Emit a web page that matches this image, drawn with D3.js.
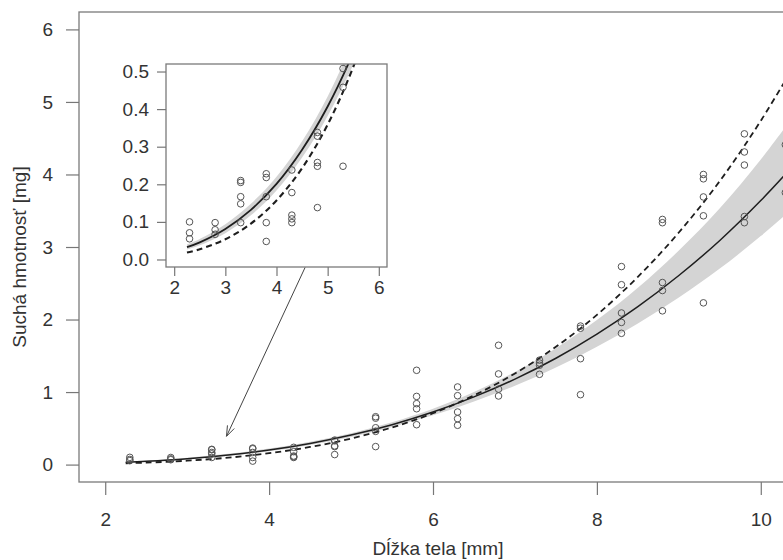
<!DOCTYPE html>
<html>
<head>
<meta charset="utf-8">
<script src="https://cdn.jsdelivr.net/npm/d3@7"></script>
<style>
  body { margin: 0; background: #fff; }
  svg { display: block; font-family: "Liberation Sans", Arial, Helvetica, sans-serif; }
  .tick text { fill: #333; font-size: 19px; }
  .tick line { stroke: #777; }
</style>
</head>
<body>
<svg id="chart" width="783" height="560"></svg>
<script>
// body length groups [mm] and measured dry mass [mg]
const lengths = [2.3, 2.8, 3.3, 3.8, 4.3, 4.8, 5.3, 5.8, 6.3, 6.8, 7.3, 7.8, 8.3, 8.8, 9.3, 9.8, 10.3];
const masses = [
  [0.10, 0.071, 0.055],
  [0.098, 0.079, 0.067],
  [0.21, 0.205, 0.167, 0.148, 0.098],
  [0.228, 0.218, 0.167, 0.098, 0.048],
  [0.238, 0.178, 0.118, 0.108, 0.098],
  [0.338, 0.328, 0.258, 0.248, 0.138],
  [0.66, 0.64, 0.508, 0.458, 0.248],
  [1.30, 0.94, 0.84, 0.77, 0.55],
  [1.07, 0.95, 0.725, 0.633, 0.542],
  [1.645, 1.25, 1.04, 0.946],
  [1.44, 1.40, 1.37, 1.245],
  [1.91, 1.88, 1.46, 0.964],
  [2.73, 2.48, 2.09, 1.96, 1.81],
  [3.38, 3.335, 2.51, 2.40, 2.12],
  [4.00, 3.94, 3.69, 3.43, 2.23],
  [4.56, 4.31, 4.13, 3.42, 3.335],
  [4.41, 3.75]
];

// fitted curves
const curveX  = [2.25, 2.5, 3, 3.5, 4, 4.5, 5, 5.5, 6, 6.5, 7, 7.5, 8, 8.5, 9, 9.5, 10, 10.5];
const solidY  = [0.0327, 0.0455, 0.0811, 0.132, 0.201, 0.292, 0.407, 0.550, 0.724, 0.933, 1.179, 1.466, 1.799, 2.178, 2.607, 3.09, 3.64, 4.25];
const dashedY = [0.0184, 0.0273, 0.0537, 0.0954, 0.157, 0.243, 0.359, 0.512, 0.708, 0.954, 1.256, 1.624, 2.064, 2.588, 3.20, 3.91, 4.74, 5.68];
const bandHi  = [0.0402, 0.0547, 0.0939, 0.1483, 0.2204, 0.3146, 0.4337, 0.584, 0.771, 1.001, 1.277, 1.605, 1.992, 2.438, 2.951, 3.534, 4.206, 4.959];
const bandLo  = [0.0266, 0.0379, 0.0701, 0.1175, 0.1833, 0.2710, 0.3819, 0.518, 0.680, 0.870, 1.088, 1.339, 1.625, 1.945, 2.303, 2.702, 3.150, 3.642];

const mainXTicks = [2, 4, 6, 8, 10];
const mainYTicks = [0, 1, 2, 3, 4, 5, 6];
const insetXTicks = [2, 3, 4, 5, 6];
const insetYTicks = [0, 0.1, 0.2, 0.3, 0.4, 0.5];

const xTitle = 'Dĺžka tela [mm]';
const yTitle = 'Suchá hmotnosť [mg]';

// arrow from the inset down to the zoomed region (main data coords)
const arrowFrom = [4.44, 2.72];
const arrowTo = [3.48, 0.39];

const points = [];
lengths.forEach((x, i) => masses[i].forEach(y => points.push({ x, y })));
const curve = curveX.map((x, i) => ({ x, s: solidY[i], d: dashedY[i], hi: bandHi[i], lo: bandLo[i] }));

const svg = d3.select('#chart');

// draws one panel (main or inset) with the same content
function drawPanel(g, x, y, opts) {
  const [x0, x1] = x.range();
  const [y1, y0] = y.range();
  const id = opts.id;

  g.append('rect')
    .attr('x', x0).attr('y', y0)
    .attr('width', x1 - x0).attr('height', y1 - y0)
    .attr('fill', '#fff');

  g.append('clipPath').attr('id', id)
    .append('rect')
    .attr('x', x0).attr('y', y0)
    .attr('width', x1 - x0).attr('height', y1 - y0);

  const plot = g.append('g').attr('clip-path', `url(#${id})`);

  const area = d3.area()
    .x(d => x(d.x)).y0(d => y(d.lo)).y1(d => y(d.hi))
    .curve(d3.curveCatmullRom);
  plot.append('path').datum(curve)
    .attr('d', area)
    .attr('fill', '#d4d4d4');

  const solid = d3.line().x(d => x(d.x)).y(d => y(d.s)).curve(d3.curveCatmullRom);
  const dashed = d3.line().x(d => x(d.x)).y(d => y(d.d)).curve(d3.curveCatmullRom);

  plot.append('path').datum(curve)
    .attr('d', solid)
    .attr('fill', 'none')
    .attr('stroke', '#1e1e1e')
    .attr('stroke-width', opts.lw);

  plot.append('path').datum(curve)
    .attr('d', dashed)
    .attr('fill', 'none')
    .attr('stroke', '#1e1e1e')
    .attr('stroke-width', opts.lw + 0.3)
    .attr('stroke-dasharray', '6,4');

  plot.selectAll('circle').data(points).join('circle')
    .attr('cx', d => x(d.x))
    .attr('cy', d => y(d.y))
    .attr('r', 3.3)
    .attr('fill', 'none')
    .attr('stroke', '#555')
    .attr('stroke-width', 1);

  g.append('rect')
    .attr('x', x0).attr('y', y0)
    .attr('width', x1 - x0).attr('height', y1 - y0)
    .attr('fill', 'none')
    .attr('stroke', '#7a7a7a')
    .attr('stroke-width', 1.3);

  const xa = g.append('g')
    .attr('transform', `translate(0,${y1})`)
    .call(d3.axisBottom(x).tickValues(opts.xTicks).tickFormat(opts.xFmt)
      .tickSize(opts.tick).tickSizeOuter(0).tickPadding(opts.xPad));
  xa.select('.domain').remove();

  const ya = g.append('g')
    .attr('transform', `translate(${x0},0)`)
    .call(d3.axisLeft(y).tickValues(opts.yTicks).tickFormat(opts.yFmt)
      .tickSize(opts.tick).tickSizeOuter(0).tickPadding(opts.yPad));
  ya.select('.domain').remove();

  g.selectAll('.tick line').attr('stroke-width', 1.2);
  g.selectAll('.tick text').attr('font-family', null).attr('font-size', null);
}

// main panel
const x = d3.scaleLinear().domain([1.68, 10.32]).range([79, 787]);
const y = d3.scaleLinear().domain([-0.24, 6.24]).range([482, 12]);
const mainG = svg.append('g');
drawPanel(mainG, x, y, {
  id: 'clipMain', lw: 1.5, tick: 13, xPad: 18, yPad: 13,
  xTicks: mainXTicks, yTicks: mainYTicks,
  xFmt: d3.format('d'), yFmt: d3.format('d')
});

// arrow
const ax0 = x(arrowFrom[0]), ay0 = y(arrowFrom[1]);
const ax1 = x(arrowTo[0]), ay1 = y(arrowTo[1]);
const ang = Math.atan2(ay1 - ay0, ax1 - ax0);
const headLen = 11, headAng = Math.PI / 9;
const arrowPath = d3.path();
arrowPath.moveTo(ax0, ay0);
arrowPath.lineTo(ax1, ay1);
arrowPath.moveTo(ax1 - headLen * Math.cos(ang - headAng), ay1 - headLen * Math.sin(ang - headAng));
arrowPath.lineTo(ax1, ay1);
arrowPath.lineTo(ax1 - headLen * Math.cos(ang + headAng), ay1 - headLen * Math.sin(ang + headAng));
svg.append('path')
  .attr('d', arrowPath.toString())
  .attr('fill', 'none')
  .attr('stroke', '#444')
  .attr('stroke-width', 1);

// inset panel
const xi = d3.scaleLinear().domain([1.84, 6.16]).range([166, 387]);
const yi = d3.scaleLinear().domain([-0.02, 0.52]).range([267, 64]);
const insetG = svg.append('g');
drawPanel(insetG, xi, yi, {
  id: 'clipInset', lw: 1.8, tick: 9, xPad: 5, yPad: 8,
  xTicks: insetXTicks, yTicks: insetYTicks,
  xFmt: d3.format('d'), yFmt: d3.format('.1f')
});

// axis titles
svg.append('text')
  .attr('x', 438).attr('y', 555)
  .attr('text-anchor', 'middle')
  .attr('font-size', 19)
  .attr('fill', '#333')
  .text(xTitle);

svg.append('text')
  .attr('transform', 'translate(26,257) rotate(-90)')
  .attr('text-anchor', 'middle')
  .attr('font-size', 19)
  .attr('fill', '#333')
  .text(yTitle);
</script>
</body>
</html>
